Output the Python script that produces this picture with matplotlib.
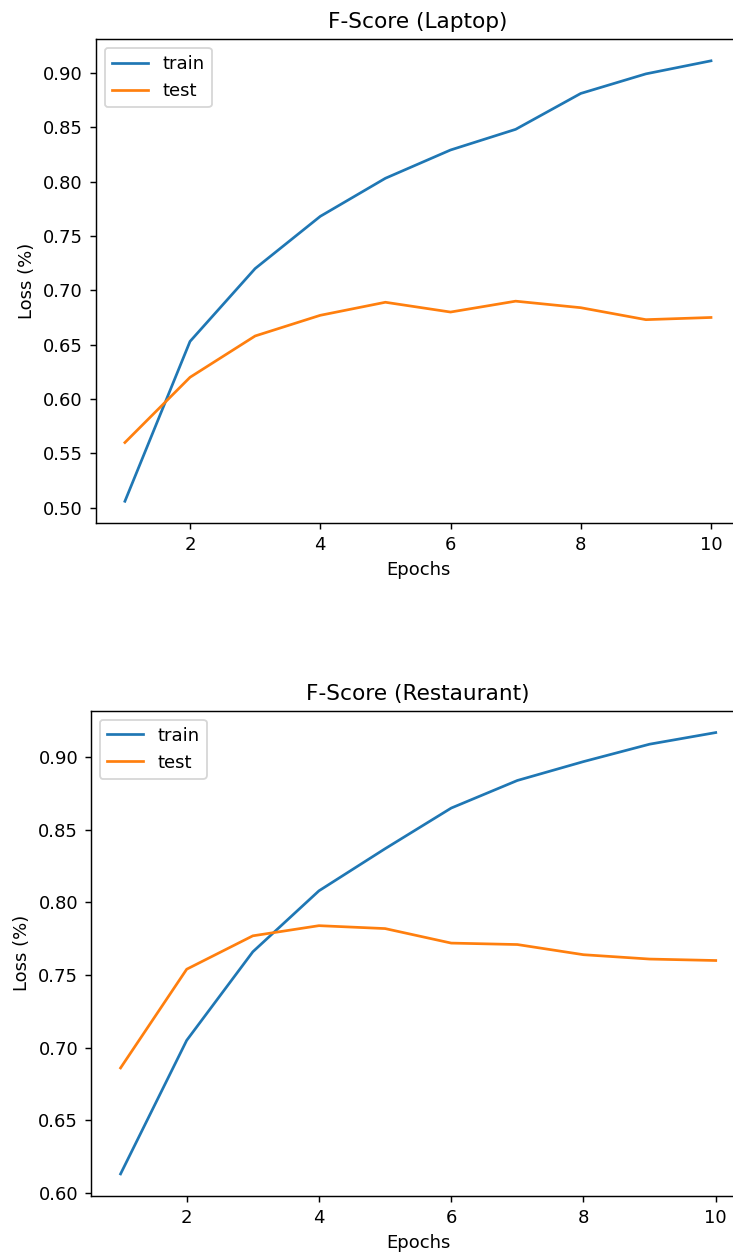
import matplotlib
matplotlib.use("Agg")
import matplotlib.pyplot as plt

epochs = list(range(1, 11))

laptop_train = [0.506, 0.653, 0.720, 0.768, 0.803, 0.829, 0.848, 0.881, 0.899, 0.911]
laptop_test = [0.560, 0.620, 0.658, 0.677, 0.689, 0.680, 0.690, 0.684, 0.673, 0.675]

rest_train = [0.613, 0.705, 0.766, 0.808, 0.837, 0.865, 0.884, 0.897, 0.909, 0.917]
rest_test = [0.686, 0.754, 0.777, 0.784, 0.782, 0.772, 0.771, 0.764, 0.761, 0.760]

panels = [
    ("F-Score (Laptop)", laptop_train, laptop_test),
    ("F-Score (Restaurant)", rest_train, rest_test),
]

W, H, DPI = 733, 1256, 130
fig = plt.figure(figsize=(W / DPI, H / DPI), dpi=DPI)

# axes boxes in pixels: left, top, right, bottom (right edge runs past the crop)
boxes = [(95.6, 38.8, 740.3, 523.3), (90.8, 710.5, 745.5, 1196.0)]

for (title, train, test), (l, t, r, b) in zip(panels, boxes):
    ax = fig.add_axes([l / W, (H - b) / H, (r - l) / W, (b - t) / H])
    ax.plot(epochs, train, label="train")
    ax.plot(epochs, test, label="test")
    ax.set_title(title)
    ax.set_xlabel("Epochs")
    ax.set_ylabel("Loss (%)")
    ax.legend(loc="upper left")

fig.savefig("out.png", dpi=DPI)
